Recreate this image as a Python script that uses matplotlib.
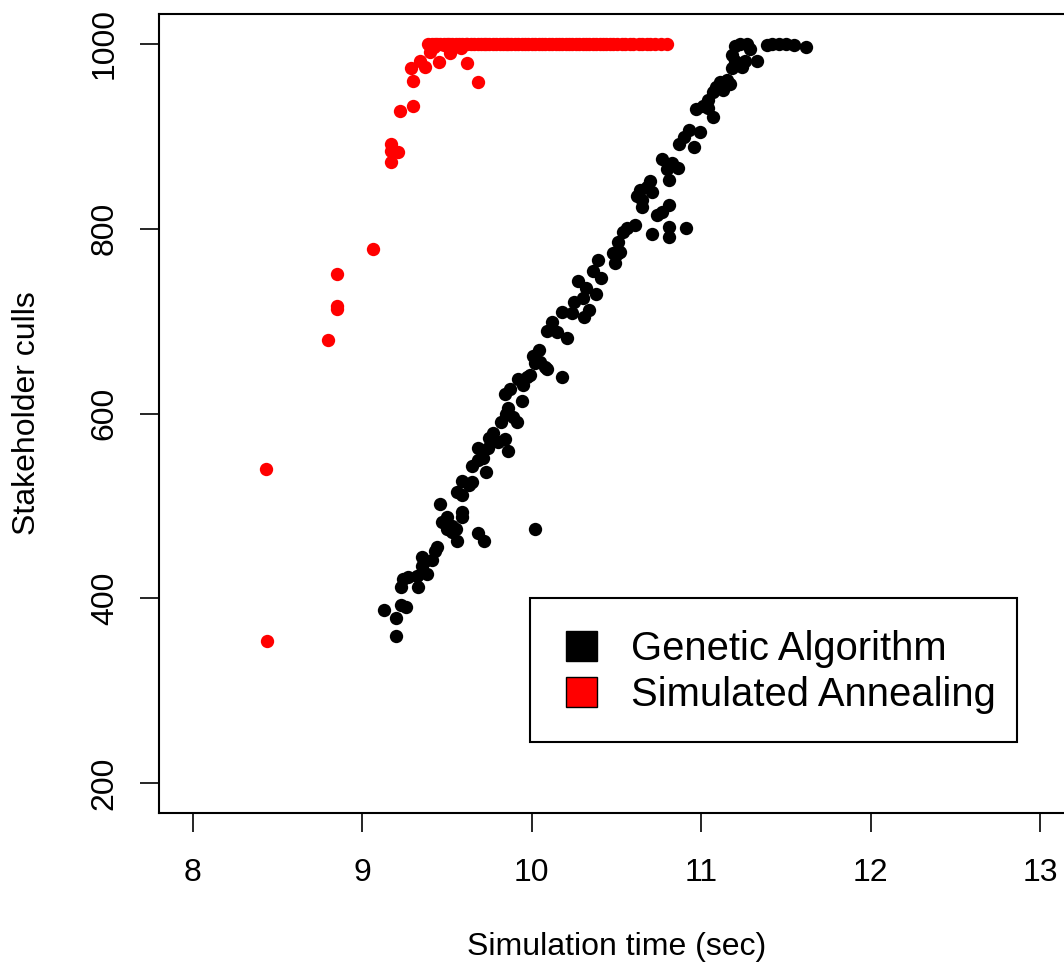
import matplotlib
matplotlib.use("Agg")
import matplotlib.pyplot as plt
from matplotlib.patches import Patch, Rectangle

plt.rcParams['font.family'] = ['Liberation Sans', 'DejaVu Sans']

# Genetic Algorithm runs: (simulation time, culls)
ga_time = [9.13, 9.20, 9.20, 9.23, 9.26, 9.24, 9.23, 9.27, 9.33, 9.32,
           9.35, 9.38, 9.35, 9.41, 9.44, 9.43, 9.37, 9.46, 9.47, 9.50,
           9.50, 9.55, 9.56, 9.53, 9.59, 9.59, 9.56, 9.59, 9.63, 9.59,
           9.68, 9.72, 9.53, 9.65, 9.65, 9.68, 9.73, 9.71, 9.68, 9.74,
           9.75, 9.77, 9.80, 9.84, 9.86, 9.82, 9.85, 9.89, 9.91, 9.86,
           9.84, 9.87, 9.94, 9.92, 9.95, 9.99, 10.02, 10.05, 10.09, 10.18,
           10.02, 9.97, 10.01, 10.04, 10.08, 10.09, 10.12, 10.15, 10.21, 10.18,
           10.24, 10.25, 10.30, 10.32, 10.31, 10.34, 10.38, 10.27, 10.36, 10.39,
           10.41, 10.49, 10.48, 10.52, 10.51, 10.50, 10.54, 10.56, 10.61, 10.71,
           10.74, 10.77, 10.81, 10.81, 10.81, 10.91, 10.65, 10.62, 10.64, 10.68,
           10.70, 10.65, 10.71, 10.81, 10.77, 10.80, 10.83, 10.86, 10.87, 10.90,
           10.96, 10.99, 10.93, 10.97, 11.01, 11.07, 11.04, 11.07, 11.11, 11.15,
           11.17, 11.18, 11.20, 11.18, 11.20, 11.23, 11.27, 11.24, 11.26, 11.33,
           11.29, 11.39, 11.42, 11.46, 11.50, 11.55, 11.62, 11.09, 11.13, 11.04]
ga_culls = [388, 359, 379, 393, 391, 421, 412, 423, 412, 424,
            435, 426, 445, 442, 456, 451, 440, 502, 483, 488,
            475, 475, 462, 472, 494, 488, 515, 512, 523, 527,
            471, 462, 478, 526, 543, 550, 537, 552, 563, 563,
            574, 579, 569, 572, 559, 591, 599, 596, 591, 606,
            621, 626, 613, 637, 631, 642, 655, 656, 648, 639,
            475, 640, 662, 669, 650, 689, 699, 688, 682, 710,
            709, 721, 725, 736, 704, 712, 729, 743, 754, 766,
            747, 763, 774, 775, 785, 772, 796, 801, 804, 794,
            815, 818, 826, 802, 791, 801, 823, 835, 842, 845,
            851, 831, 839, 853, 875, 864, 871, 866, 891, 899,
            888, 904, 907, 929, 932, 921, 939, 948, 958, 961,
            956, 974, 981, 988, 997, 1000, 1000, 975, 981, 981,
            994, 999, 1000, 1000, 1000, 999, 996, 953, 950, 930]

# Simulated Annealing runs
sa_time = [8.43, 8.44, 8.80, 8.85, 8.85, 8.85, 9.06, 9.17, 9.17, 9.21,
           9.17, 9.22, 9.30, 9.30, 9.29, 9.34, 9.37, 9.40, 9.45, 9.52,
           9.58, 9.62, 9.68, 9.42, 9.48, 9.55,
           9.39, 9.41, 9.43, 9.44, 9.46, 9.48, 9.50, 9.51, 9.53, 9.55,
           9.57, 9.59, 9.61, 9.62, 9.64, 9.66, 9.68, 9.70, 9.72, 9.73,
           9.75, 9.77, 9.79, 9.81, 9.83, 9.85, 9.86, 9.88, 9.90, 9.92,
           9.94, 9.96, 9.98, 10.00, 10.02, 10.04, 10.06, 10.08, 10.10, 10.12,
           10.14, 10.16, 10.18, 10.20, 10.22, 10.24, 10.26, 10.28, 10.30, 10.32,
           10.34, 10.36, 10.38, 10.40, 10.42, 10.44, 10.46, 10.48, 10.50, 10.53,
           10.55, 10.58, 10.60, 10.63, 10.65, 10.68, 10.70, 10.73, 10.76, 10.80]
sa_culls = [540, 354, 680, 716, 713, 751, 778, 891, 884, 883,
            872, 927, 932, 960, 974, 981, 975, 991, 980, 990,
            995, 979, 958, 996, 998, 997,
            1000, 1000, 1000, 1000, 1000, 1000, 1000, 1000, 1000, 1000,
            1000, 1000, 1000, 1000, 1000, 1000, 1000, 1000, 1000, 1000,
            1000, 1000, 1000, 1000, 1000, 1000, 1000, 1000, 1000, 1000,
            1000, 1000, 1000, 1000, 1000, 1000, 1000, 1000, 1000, 1000,
            1000, 1000, 1000, 1000, 1000, 1000, 1000, 1000, 1000, 1000,
            1000, 1000, 1000, 1000, 1000, 1000, 1000, 1000, 1000, 1000,
            1000, 1000, 1000, 1000, 1000, 1000, 1000, 1000, 1000, 1000]

x_ticks = [8, 9, 10, 11, 12, 13]
y_ticks = [200, 400, 600, 800, 1000]
series_names = ['Genetic Algorithm', 'Simulated Annealing']

W, H = 1064, 966
fig = plt.figure(figsize=(W / 100, H / 100), dpi=100)
ax = fig.add_axes([159 / W, 1 - 813 / H, (1074 - 159) / W, (813 - 14) / H])

ax.plot(ga_time, ga_culls, 'o', color='black', markersize=9.6, markeredgewidth=0)
ax.plot(sa_time, sa_culls, 'o', color='red', markersize=9.6, markeredgewidth=0)

ax.set_xlim(7.8, 13.2)
ax.set_ylim(168, 1032)
ax.set_xticks(x_ticks)
ax.set_yticks(y_ticks)
ax.tick_params(length=13.7, width=1.2, labelsize=23, colors='black')
ax.tick_params(axis='x', pad=18.5)
ax.tick_params(axis='y', pad=14.5)
for lab in ax.get_yticklabels():
    lab.set_rotation(90)
    lab.set_va('center')
for sp in ax.spines.values():
    sp.set_linewidth(1.5)

ax.set_xlabel('Simulation time (sec)', fontsize=23, va='center')
ax.set_ylabel('Stakeholder culls', fontsize=23, va='center')
ax.xaxis.set_label_coords(0.5, -(947 - 813) / (813 - 14))
ax.yaxis.set_label_coords(-(159 - 27) / (1074 - 159), 0.5)

# legend: entries without frame, box drawn separately
handles = [Patch(facecolor='black', edgecolor='black', linewidth=1),
           Patch(facecolor='red', edgecolor='black', linewidth=1)]
leg = fig.legend(handles, series_names, loc='upper left',
                 bbox_to_anchor=(566 / W, 1 - 630 / H),
                 fontsize=28.8, frameon=False, borderaxespad=0, borderpad=0,
                 handlelength=0.78, handleheight=0.78, handletextpad=0.85,
                 labelspacing=0.2)
fig.add_artist(Rectangle((530 / W, 1 - 742 / H), 487 / W, 144 / H,
                         transform=fig.transFigure, fill=False,
                         edgecolor='black', linewidth=1.5))

fig.savefig('out.png', dpi=100)
